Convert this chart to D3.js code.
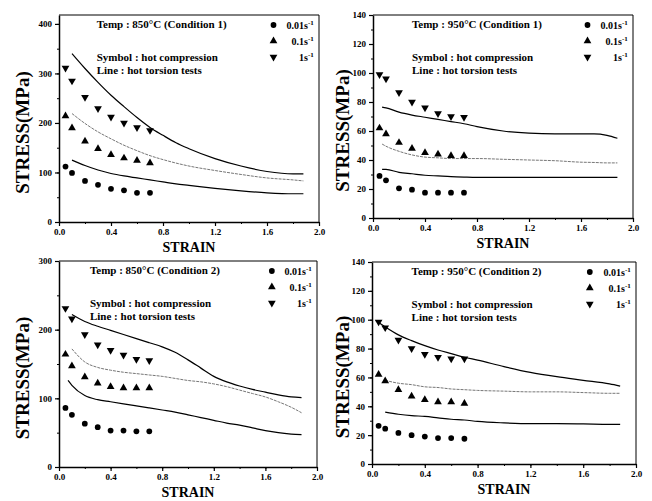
<!DOCTYPE html>
<html>
<head>
<meta charset="utf-8">
<script src="https://cdn.jsdelivr.net/npm/d3@7"></script>
<style>
  body { margin: 0; background: #fff; }
  svg text { font-family: "Liberation Serif", "DejaVu Serif", serif !important; font-weight: bold; fill: #000; }
</style>
</head>
<body>
<div id="chart"></div>
<script>
"use strict";

// compression test strains (symbols)
var pointStrain = [0.05, 0.1, 0.2, 0.3, 0.4, 0.5, 0.6, 0.7];

// 850C, condition 1
var p1Comp001 = [112, 99, 83, 75, 67, 64, 59, 59];
var p1Comp01 = [214, 190, 163, 148, 136, 129, 124, 119];
var p1Comp1 = [311, 285, 252, 229, 212, 200, 191, 185];
var p1LineStrain = [0.1, 0.2, 0.3, 0.4, 0.5, 0.6, 0.7, 0.8, 0.9, 1.0, 1.2, 1.4, 1.6, 1.8, 1.88];
var p1Tor1 = [340, 310, 282, 256, 233, 211, 191, 175, 160, 148, 128, 113, 102, 97, 97];
var p1Tor01 = [219, 199, 182, 168, 155, 144, 134, 126, 119, 113, 104, 96, 89, 85, 83];
var p1Tor001 = [125, 114, 105, 98, 93, 89, 85, 81, 77, 74, 68, 63, 59, 57, 57];

// 950C, condition 1
var p2Comp001 = [29, 26, 20.5, 19.5, 17.5, 17.5, 17.5, 17.5];
var p2Comp01 = [62, 58, 52, 48, 45, 44, 43, 43];
var p2Comp1 = [99, 96, 86.5, 80, 76, 72, 70, 69.5];
var p2LineStrain = [0.07, 0.1, 0.2, 0.3, 0.4, 0.5, 0.6, 0.7, 0.8, 1.0, 1.2, 1.4, 1.6, 1.7, 1.8, 1.88];
var p2Tor1 = [76.5, 76, 73, 71, 69.5, 68, 66.5, 65, 63, 60, 58.5, 58, 58, 58, 57, 55];
var p2Tor01 = [51, 49.5, 46, 43.5, 42, 41.5, 41, 41, 41, 40.5, 40, 39.5, 38.5, 38.3, 38, 38];
var p2Tor001 = [33.5, 33.5, 31.5, 30.5, 29.5, 29, 28.5, 28.2, 28, 28, 28, 28, 28, 28, 28, 28];

// 850C, condition 2
var p3Comp001 = [86, 76, 63, 58, 53, 53, 52, 52];
var p3Comp01 = [164, 147, 131, 122, 117, 115, 115, 115];
var p3Comp1 = [231, 216, 193, 178, 170, 163, 157, 155];
var p3LineStrain = [0.07, 0.1, 0.2, 0.3, 0.4, 0.5, 0.6, 0.7, 0.8, 0.9, 1.0, 1.1, 1.2, 1.3, 1.4, 1.5, 1.6, 1.7, 1.8, 1.88];
var p3Tor1 = [null, 222, 212, 205, 199, 193, 187, 181, 175, 167, 156, 144, 132, 124, 118, 113, 109, 105, 102, 101];
var p3Tor01 = [null, 172, 153, 145, 141, 138, 136, 134, 132, 129, 126, 124, 121, 117, 112, 107, 102, 95, 87, 79];
var p3Tor001 = [126, 119, 104, 98, 95, 92, 89, 86, 83, 80, 76, 72, 68, 64, 61, 57, 53, 50, 48, 47];

// 950C, condition 2
var p4Comp001 = [26.5, 24.5, 21.5, 20, 19, 18, 18, 17.5];
var p4Comp01 = [62, 57.5, 51.5, 47, 44.5, 43, 43, 42];
var p4Comp1 = [98.5, 94.5, 86, 80, 76, 74, 73, 73];
var p4LineStrain = [0.05, 0.1, 0.2, 0.3, 0.4, 0.5, 0.6, 0.7, 0.8, 1.0, 1.2, 1.4, 1.6, 1.8, 1.88];
var p4Tor1 = [98, 95, 89.5, 85.5, 82, 79, 76.5, 74, 72, 67.5, 63.5, 60.5, 58, 55.5, 54];
var p4Tor01 = [null, 58, 56, 55, 53.5, 53, 52, 51.5, 51, 50.5, 50, 50, 49.5, 49, 49];
var p4Tor001 = [null, 36, 34.5, 33.5, 33, 32, 31, 30.5, 29.5, 28.5, 28, 28, 27.8, 27.5, 27.5];

var xTicks = [0.0, 0.4, 0.8, 1.2, 1.6, 2.0];
var rateLabels = ["0.01s", "0.1s", "1s"];
var panelTitles = ["Temp : 850°C  (Condition 1)", "Temp : 950°C  (Condition 1)",
                   "Temp : 850°C  (Condition 2)", "Temp : 950°C  (Condition 2)"];
var noteLines = ["Symbol : hot compression", "Line : hot torsion tests"];

var panels = [
    { left: 59, right: 319, top: 15, bottom: 222, yMax: 418, yTicks: [0, 100, 200, 300, 400], yMinor: 50, labelX: 29, textX: 0.29,
      comp: [p1Comp001, p1Comp01, p1Comp1], lineStrain: p1LineStrain, tor: [p1Tor001, p1Tor01, p1Tor1] },
    { left: 373, right: 633, top: 15, bottom: 218, yMax: 140, yTicks: [0, 20, 40, 60, 80, 100, 120, 140], yMinor: 10, labelX: 349, textX: 0.3,
      comp: [p2Comp001, p2Comp01, p2Comp1], lineStrain: p2LineStrain, tor: [p2Tor001, p2Tor01, p2Tor1] },
    { left: 59, right: 317, top: 261, bottom: 467, yMax: 300, yTicks: [0, 100, 200, 300], yMinor: 50, labelX: 29, textX: 0.24,
      comp: [p3Comp001, p3Comp01, p3Comp1], lineStrain: p3LineStrain, tor: [p3Tor001, p3Tor01, p3Tor1] },
    { left: 372, right: 636, top: 262, bottom: 464, yMax: 140, yTicks: [0, 20, 40, 60, 80, 100, 120, 140], yMinor: 10, labelX: 349, textX: 0.3,
      comp: [p4Comp001, p4Comp01, p4Comp1], lineStrain: p4LineStrain, tor: [p4Tor001, p4Tor01, p4Tor1] }
];

var svg = d3.select("#chart").append("svg")
    .attr("width", 652)
    .attr("height", 501);

var symbols = [
    d3.symbol().type(d3.symbolCircle).size(26),
    d3.symbol().type(d3.symbolTriangle).size(26),
    d3.symbol().type(d3.symbolTriangle).size(26)
];

function drawMarker(g, i, x, y) {
    g.append("path")
        .attr("d", symbols[i]())
        .attr("fill", "#000")
        .attr("transform", "translate(" + x + "," + y + ")" + (i === 2 ? " rotate(180)" : ""));
}

function drawPanel(p, idx) {
    var x = d3.scaleLinear().domain([0, 2]).range([p.left, p.right]);
    var y = d3.scaleLinear().domain([0, p.yMax]).range([p.bottom, p.top]);
    var g = svg.append("g");

    // minor ticks
    var minorX = d3.range(0, 2.001, 0.2);
    g.append("g")
        .attr("transform", "translate(0," + p.bottom + ")")
        .call(d3.axisBottom(x).tickValues(minorX).tickSize(2).tickFormat(""))
        .call(function (a) { a.select(".domain").remove(); });
    g.append("g")
        .attr("transform", "translate(" + p.left + ",0)")
        .call(d3.axisLeft(y).tickValues(d3.range(0, p.yMax, p.yMinor)).tickSize(2).tickFormat(""))
        .call(function (a) { a.select(".domain").remove(); });

    var xAxis = g.append("g")
        .attr("transform", "translate(0," + p.bottom + ")")
        .call(d3.axisBottom(x).tickValues(xTicks).tickSize(4).tickSizeOuter(0).tickPadding(3).tickFormat(d3.format(".1f")));
    var yAxis = g.append("g")
        .attr("transform", "translate(" + p.left + ",0)")
        .call(d3.axisLeft(y).tickValues(p.yTicks).tickSize(4).tickSizeOuter(0).tickPadding(3));

    [xAxis, yAxis].forEach(function (a) {
        a.attr("font-family", null);
        a.select(".domain").attr("stroke-width", 1.5);
        a.selectAll("text").style("font-size", "9px");
        a.selectAll("line").attr("stroke-width", 1.2);
    });

    // frame top and right
    g.append("line").attr("x1", p.left).attr("x2", p.right).attr("y1", p.top).attr("y2", p.top)
        .attr("stroke", "#000").attr("stroke-width", 1);
    g.append("line").attr("x1", p.right).attr("x2", p.right).attr("y1", p.top).attr("y2", p.bottom)
        .attr("stroke", "#000").attr("stroke-width", 1);

    // torsion lines
    var line = d3.line()
        .defined(function (d) { return d[1] !== null; })
        .curve(d3.curveMonotoneX)
        .x(function (d) { return x(d[0]); })
        .y(function (d) { return y(d[1]); });
    p.tor.forEach(function (vals, i) {
        var pts = p.lineStrain.map(function (s, k) { return [s, vals[k]]; });
        g.append("path")
            .attr("d", line(pts))
            .attr("fill", "none")
            .attr("stroke", i === 1 ? "#777" : "#000")
            .attr("stroke-width", i === 1 ? 1 : 1.2)
            .attr("stroke-dasharray", i === 1 ? "3,1" : null);
    });

    // compression symbols
    p.comp.forEach(function (vals, i) {
        vals.forEach(function (v, k) {
            drawMarker(g, i, x(pointStrain[k]), y(v));
        });
    });

    // annotations
    var tx = x(p.textX);
    g.append("text").attr("x", tx).attr("y", p.top + 13).style("font-size", "11px").text(panelTitles[idx]);
    noteLines.forEach(function (t, i) {
        g.append("text").attr("x", tx).attr("y", p.top + 46 + i * 13).style("font-size", "11px").text(t);
    });

    // legend
    rateLabels.forEach(function (lab, i) {
        var ly = p.top + 10 + i * 16;
        drawMarker(g, i, x(1.65), ly);
        var t = g.append("text")
            .attr("x", x(1.96))
            .attr("y", ly + 3.5)
            .attr("text-anchor", "end")
            .style("font-size", "10px");
        t.append("tspan").text(lab);
        t.append("tspan").attr("dy", -4).style("font-size", "7px").text("-1");
    });

    // axis titles
    g.append("text")
        .attr("x", (p.left + p.right) / 2)
        .attr("y", p.bottom + 30)
        .attr("text-anchor", "middle")
        .style("font-size", "14px")
        .text("STRAIN");
    var cy = (p.top + p.bottom) / 2 + 14;
    g.append("text")
        .attr("transform", "translate(" + p.labelX + "," + cy + ") rotate(-90)")
        .attr("text-anchor", "middle")
        .style("font-size", "19px")
        .text("STRESS(MPa)");
}

panels.forEach(drawPanel);
</script>
</body>
</html>
